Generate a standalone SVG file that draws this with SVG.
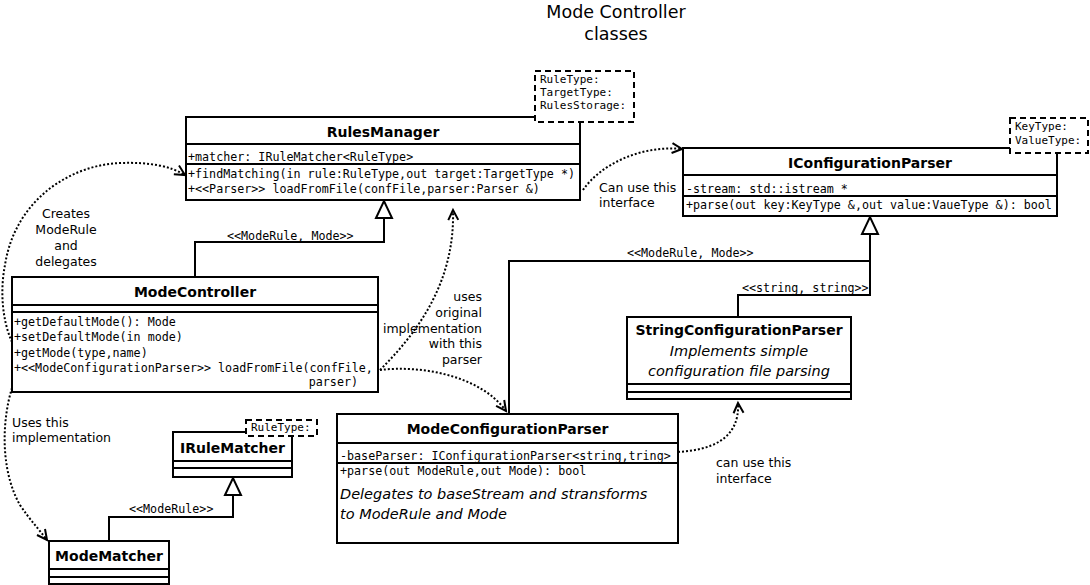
<svg xmlns="http://www.w3.org/2000/svg" width="1090" height="585" viewBox="0 0 1090 585">
<style>
.box{fill:#fff;stroke:#000;stroke-width:2}
.sep{stroke:#000;stroke-width:2}
.tpl{fill:#fff;stroke:#000;stroke-width:2;stroke-dasharray:6 4}
.ttl{font-family:"DejaVu Sans",sans-serif;font-weight:bold;font-size:14px;text-anchor:middle}
.m{font-family:"DejaVu Sans Mono",monospace;font-size:11.7px}
.tm{font-family:"DejaVu Sans Mono",monospace;font-size:11px}
.s{font-family:"DejaVu Sans",sans-serif;font-size:12.5px}
.i{font-family:"DejaVu Sans",sans-serif;font-style:italic;font-size:14.5px}
.gen{fill:none;stroke:#000;stroke-width:2;marker-end:url(#tri)}
.ln{fill:none;stroke:#000;stroke-width:2}
.dep{fill:none;stroke:#000;stroke-width:2;stroke-dasharray:2 2;marker-end:url(#open)}
</style>
<defs>
<marker id="tri" viewBox="0 0 17 16" refX="17" refY="8" markerWidth="17" markerHeight="16" markerUnits="userSpaceOnUse" orient="auto" overflow="visible">
<path d="M0,0 L17,8 L0,16 Z" fill="#fff" stroke="#000" stroke-width="2"/>
</marker>
<marker id="open" viewBox="0 0 10 10" refX="10" refY="5" markerWidth="10" markerHeight="10" markerUnits="userSpaceOnUse" orient="auto" overflow="visible">
<path d="M0,0 L10,5 L0,10" fill="none" stroke="#000" stroke-width="2"/>
</marker>
</defs>
<rect width="1090" height="585" fill="#fff"/>
<g id="title">
<text x="616" y="18" style="font-family:'DejaVu Sans',sans-serif;font-size:17.5px;text-anchor:middle">Mode Controller</text>
<text x="616" y="40" style="font-family:'DejaVu Sans',sans-serif;font-size:17.5px;text-anchor:middle">classes</text>
</g>
<g id="connectors">
<polyline class="gen" points="195,277 195,242 384,242 384,201"/>
<polyline class="gen" points="509,414 509,261 870,261 870,217"/>
<polyline class="ln" points="738,317 738,295 870,295 870,261"/>
<polyline class="gen" points="109,541 109,517 233,517 233,478"/>
<path class="dep" d="M583,190 C600,165 640,145 682,149"/>
<path class="dep" d="M12,342 C2,320 0,290 5,265 C15,200 70,165 120,163 C150,162 170,166 185,175"/>
<path class="dep" d="M12,388 C2,420 0,470 20,505 C30,520 38,528 47,540"/>
<path class="dep" d="M380,370 C420,330 455,280 453,210"/>
<path class="dep" d="M380,370 C420,365 480,375 506,411"/>
<path class="dep" d="M678,452 C710,450 740,440 738,403"/>
<text class="m" x="227" y="240">&lt;&lt;ModeRule, Mode&gt;&gt;</text>
<text class="m" x="627" y="257">&lt;&lt;ModeRule, Mode&gt;&gt;</text>
<text class="m" x="742" y="292">&lt;&lt;string, string&gt;&gt;</text>
<text class="m" x="129" y="513">&lt;&lt;ModeRule&gt;&gt;</text>
<text class="s" x="599" y="192">Can use this</text>
<text class="s" x="599" y="207">interface</text>
<text class="s" x="716" y="467">can use this</text>
<text class="s" x="716" y="483">interface</text>
<text class="s" x="12" y="427">Uses this</text>
<text class="s" x="12" y="442">implementation</text>
<g style="text-anchor:middle">
<text class="s" x="66" y="218">Creates</text>
<text class="s" x="66" y="234">ModeRule</text>
<text class="s" x="66" y="250">and</text>
<text class="s" x="66" y="266">delegates</text>
</g>
<g style="text-anchor:end">
<text class="s" x="482" y="301">uses</text>
<text class="s" x="482" y="317">original</text>
<text class="s" x="482" y="333">implementation</text>
<text class="s" x="482" y="348">with this</text>
<text class="s" x="482" y="364">parser</text>
</g>
</g>
<g id="RulesManager">
<rect class="box" x="186" y="117" width="394" height="83"/>
<line class="sep" x1="186" y1="144" x2="580" y2="144"/>
<line class="sep" x1="186" y1="164" x2="580" y2="164"/>
<text class="ttl" x="383" y="137">RulesManager</text>
<text class="m" x="188" y="161">+matcher: IRuleMatcher&lt;RuleType&gt;</text>
<text class="m" x="188" y="178">+findMatching(in rule:RuleType,out target:TargetType *)</text>
<text class="m" x="188" y="193">+&lt;&lt;Parser&gt;&gt; loadFromFile(confFile,parser:Parser &amp;)</text>
<rect class="tpl" x="535" y="71" width="99" height="51"/>
<text class="tm" x="540" y="83">RuleType:</text>
<text class="tm" x="540" y="96">TargetType:</text>
<text class="tm" x="540" y="109">RulesStorage:</text>
</g>
<g id="IConfigurationParser">
<rect class="box" x="683" y="148" width="374" height="68"/>
<line class="sep" x1="683" y1="175" x2="1057" y2="175"/>
<line class="sep" x1="683" y1="196" x2="1057" y2="196"/>
<text class="ttl" x="870" y="168">IConfigurationParser</text>
<text class="m" x="686" y="193">-stream: std::istream *</text>
<text class="m" x="686" y="209">+parse(out key:KeyType &amp;,out value:VaueType &amp;): bool</text>
<rect class="tpl" x="1010" y="118" width="78" height="35"/>
<text class="tm" x="1015" y="130">KeyType:</text>
<text class="tm" x="1015" y="144">ValueType:</text>
</g>
<g id="ModeController">
<rect class="box" x="12" y="277" width="366" height="115"/>
<line class="sep" x1="12" y1="305" x2="378" y2="305"/>
<line class="sep" x1="12" y1="312" x2="378" y2="312"/>
<text class="ttl" x="195" y="297">ModeController</text>
<text class="m" x="14" y="326">+getDefaultMode(): Mode</text>
<text class="m" x="14" y="341">+setDefaultMode(in mode)</text>
<text class="m" x="14" y="357">+getMode(type,name)</text>
<text class="m" x="14" y="372">+&lt;&lt;ModeConfigurationParser&gt;&gt; loadFromFile(confFile,</text>
<text class="m" x="358" y="386" style="text-anchor:end">parser)</text>
</g>
<g id="StringConfigurationParser">
<rect class="box" x="627" y="317" width="224" height="82"/>
<line class="sep" x1="627" y1="384" x2="851" y2="384"/>
<line class="sep" x1="627" y1="392" x2="851" y2="392"/>
<text class="ttl" x="739" y="335">StringConfigurationParser</text>
<text class="i" x="739" y="356" style="text-anchor:middle">Implements simple</text>
<text class="i" x="739" y="376" style="text-anchor:middle">configuration file parsing</text>
</g>
<g id="ModeConfigurationParser">
<rect class="box" x="337" y="414" width="341" height="129"/>
<line class="sep" x1="337" y1="443" x2="678" y2="443"/>
<line class="sep" x1="337" y1="463" x2="678" y2="463"/>
<text class="ttl" x="507.5" y="434">ModeConfigurationParser</text>
<text class="m" x="340" y="460">-baseParser: IConfigurationParser&lt;string,tring&gt;</text>
<text class="m" x="340" y="475">+parse(out ModeRule,out Mode): bool</text>
<text class="i" x="340" y="499">Delegates to baseStream and stransforms</text>
<text class="i" x="340" y="519">to ModeRule and Mode</text>
</g>
<g id="IRuleMatcher">
<rect class="box" x="173" y="432" width="119" height="45"/>
<line class="sep" x1="173" y1="461" x2="292" y2="461"/>
<line class="sep" x1="173" y1="468" x2="292" y2="468"/>
<text class="ttl" x="232.5" y="453">IRuleMatcher</text>
<rect class="tpl" x="246" y="420" width="71" height="16"/>
<text class="tm" x="251" y="431">RuleType:</text>
</g>
<g id="ModeMatcher">
<rect class="box" x="49" y="541" width="120" height="43"/>
<line class="sep" x1="49" y1="569" x2="169" y2="569"/>
<line class="sep" x1="49" y1="577" x2="169" y2="577"/>
<text class="ttl" x="109" y="561">ModeMatcher</text>
</g>
</svg>
